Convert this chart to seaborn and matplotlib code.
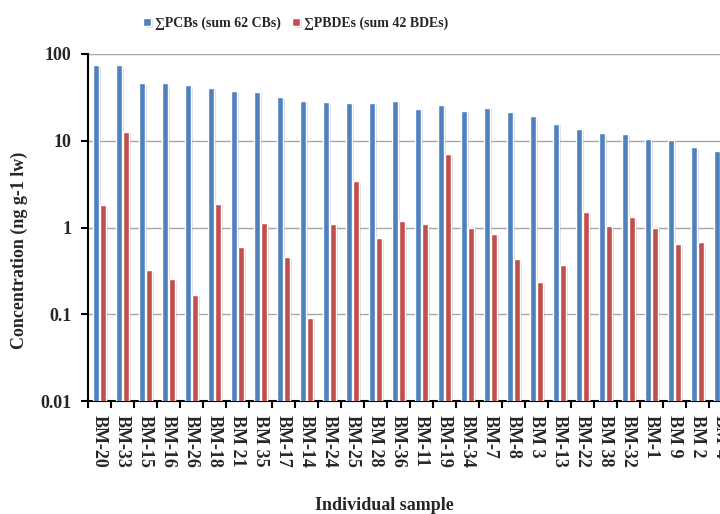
import numpy as np
import pandas as pd
import matplotlib
matplotlib.use('Agg')
import matplotlib.pyplot as plt
import matplotlib.patheffects as pe
from matplotlib.ticker import NullLocator
import seaborn as sns

# sample ids in the order shown on the x axis
samples = ['BM-20', 'BM-33', 'BM-15', 'BM-16', 'BM-26', 'BM-18', 'BM 21', 'BM 35',
           'BM-17', 'BM-14', 'BM-24', 'BM-25', 'BM 28', 'BM-36', 'BM-11', 'BM-19',
           'BM-34', 'BM-7', 'BM-8', 'BM 3', 'BM-13', 'BM-22', 'BM 38', 'BM-32',
           'BM-1', 'BM 9', 'BM 2', 'BM-4']

# concentrations (ng g-1 lw)
pcb = [75, 74, 46, 46, 44, 41, 37, 36, 32, 29, 28, 27.6, 27.6, 29,
       23.5, 25.7, 22.3, 24, 21.5, 19.2, 15.8, 13.5, 12.2, 12, 10.6, 10.2, 8.5, 7.7]
pbde = [1.8, 12.7, 0.32, 0.255, 0.168, 1.88, 0.6, 1.13, 0.455, 0.091, 1.09, 3.4, 0.76, 1.19,
        1.09, 7.1, 1.0, 0.85, 0.43, 0.234, 0.368, 1.49, 1.03, 1.31, 1.0, 0.64, 0.68, 0.5]

series_names = ['\u2211PCBs (sum 62 CBs)', '\u2211PBDEs (sum 42 BDEs)']
colors = ['#4F81BD', '#C0504D']

df = pd.DataFrame({
    'sample': samples * 2,
    'value': pcb + pbde,
    'series': [series_names[0]] * len(samples) + [series_names[1]] * len(samples),
})

sns.set_style('white')
plt.rcParams['font.family'] = ['Liberation Serif', 'DejaVu Serif']
plt.rcParams['font.weight'] = 'bold'

fig = plt.figure(figsize=(7.2, 5.14), dpi=100)
# axis runs past the right edge, like the cropped original
ax = fig.add_axes([88 / 720, 1 - 401 / 514, 644 / 720, 347 / 514])

sns.barplot(data=df, x='sample', y='value', hue='series', palette=colors,
            width=0.64, gap=0.22, saturation=1, ax=ax, zorder=3)

ax.set_yscale('log')
ax.set_ylim(0.01, 100)
ax.set_xlim(-0.5, len(samples) - 0.5)

# start bars just under the axis instead of at 0 (log scale), then add a soft shadow
for p in ax.patches:
    h = p.get_height()
    p.set_y(0.005)
    p.set_height(h - 0.005)
    p.set_path_effects([pe.SimplePatchShadow(offset=(1.5, -1.2), shadow_rgbFace='#888888', alpha=0.3),
                        pe.Normal()])

ax.set_yticks([0.01, 0.1, 1, 10, 100])
ax.set_yticklabels(['0.01', '0.1', '1', '10', '100'], fontsize=13, fontweight='bold')
ax.yaxis.set_minor_locator(NullLocator())
ax.tick_params(axis='y', which='major', left=True, direction='out', length=5, width=1.5,
               color='black', pad=7)

ax.set_xticks(range(len(samples)))
ax.set_xticklabels(samples, rotation=270, fontsize=13, fontweight='bold', ha='center', va='top')
ax.set_xticks(np.arange(-0.5, len(samples), 1), minor=True)
ax.tick_params(axis='x', which='major', bottom=True, length=0, pad=10)
ax.tick_params(axis='x', which='minor', bottom=True, direction='out', length=5, width=1.5, color='black')

ax.grid(axis='y', color='#A6A6A6', linewidth=1, zorder=0)
ax.grid(axis='x', visible=False)
for s in ['top', 'right']:
    ax.spines[s].set_visible(False)
for s in ['left', 'bottom']:
    ax.spines[s].set_color('black')
    ax.spines[s].set_linewidth(1.5)

ax.set_xlabel('')
ax.set_ylabel('')
fig.text(19 / 720, 1 - 250 / 514, 'Concentration (ng g-1 lw)', rotation=90, ha='center', va='center',
         fontsize=13, fontweight='bold')
fig.text(384 / 720, 1 - 505 / 514, 'Individual sample', ha='center', va='center',
         fontsize=13, fontweight='bold')

handles, labels = ax.get_legend_handles_labels()
ax.get_legend().remove()
fig.legend(handles, labels, loc='center', bbox_to_anchor=(0.411, 0.955), ncol=2,
           frameon=False, handlelength=0.55, handleheight=0.55, handletextpad=0.3,
           columnspacing=0.8, prop={'size': 10, 'weight': 'bold'})

fig.savefig('out.png', dpi=100)
